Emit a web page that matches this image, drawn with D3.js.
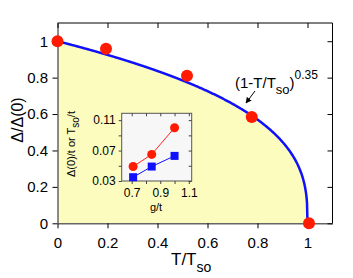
<!DOCTYPE html>
<html>
<head>
<meta charset="utf-8">
<script src="https://cdn.jsdelivr.net/npm/d3@7"></script>
<style>
body { margin: 0; background: #fff; }
svg { font-family: "Liberation Sans", Arial, sans-serif; }
</style>
</head>
<body>
<div id="chart"></div>
<script>
// main panel data
var tRatio = [0, 0.194, 0.518, 0.777, 1.006];
var gapRatio = [1.0, 0.959, 0.81, 0.584, 0];
var expo = 0.35;
var mainTicks = [0, 0.2, 0.4, 0.6, 0.8, 1];

// inset data
var gOverT = [0.71, 0.84, 1.0];
var gapOverT = [0.049, 0.065, 0.100];
var tsoOverT = [0.035, 0.049, 0.063];
var insetXTicks = [0.7, 0.9, 1.1];
var insetYTicks = [0.03, 0.07, 0.11];

var W = 353, H = 278;
var svg = d3.select("#chart").append("svg").attr("width", W).attr("height", H);

var x = d3.scaleLinear().domain([0, 1.1]).range([57.5, 332.5]);
var y = d3.scaleLinear().domain([0, 1.1]).range([223.3, 23]);

// curve samples of (1-x)^0.35
var curve = d3.range(0, 1.0001, 0.002).map(function (t) {
	return [t, Math.pow(Math.max(0, 1 - t), expo)];
});
curve.push([1, 0]);

svg.append("path")
	.datum(curve)
	.attr("fill", "#fdfcbf")
	.attr("d", d3.area()
		.x(function (d) { return x(d[0]) })
		.y0(y(0))
		.y1(function (d) { return y(d[1]) }));

// frame
svg.append("line").attr("x1", x(0)).attr("x2", x(1.1)).attr("y1", y(1.1)).attr("y2", y(1.1)).attr("stroke", "#000");
svg.append("line").attr("x1", x(1.1)).attr("x2", x(1.1)).attr("y1", y(1.1)).attr("y2", y(0)).attr("stroke", "#000");

var fmt = d3.format("~g");
var ax = svg.append("g").attr("transform", "translate(0," + y(0) + ")")
	.call(d3.axisBottom(x).tickValues(mainTicks).tickFormat(fmt).tickSize(5).tickSizeOuter(0));
var ay = svg.append("g").attr("transform", "translate(" + x(0) + ",0)")
	.call(d3.axisLeft(y).tickValues(mainTicks).tickFormat(fmt).tickSize(5).tickSizeOuter(0));
var at = svg.append("g").attr("transform", "translate(0," + y(1.1) + ")")
	.call(d3.axisBottom(x).tickValues(mainTicks).tickFormat("").tickSize(5).tickSizeOuter(0));
var ar = svg.append("g").attr("transform", "translate(" + x(1.1) + ",0)")
	.call(d3.axisLeft(y).tickValues(mainTicks).tickFormat("").tickSize(5).tickSizeOuter(0));
[ax, ay].forEach(function (a) {
	a.select(".domain").attr("stroke", "#666").attr("stroke-width", 1.5);
	a.selectAll("text").attr("font-size", 15).attr("fill", "#000");
});
at.select(".domain").remove();
ar.select(".domain").remove();
ax.selectAll("text").attr("dy", "1.1em");
ay.selectAll("text").attr("dx", "-0.1em");

// curve line
svg.append("path")
	.datum(curve)
	.attr("fill", "none")
	.attr("stroke", "#1010ff")
	.attr("stroke-width", 2.5)
	.attr("d", d3.line()
		.x(function (d) { return x(d[0]) })
		.y(function (d) { return y(d[1]) }));

svg.selectAll(".pt")
	.data(tRatio)
	.enter()
	.append("circle")
	.attr("class", "pt")
	.attr("cx", function (d) { return x(d) })
	.attr("cy", function (d, i) { return y(gapRatio[i]) })
	.attr("r", 6)
	.attr("fill", "#ff1a00");

// axis labels
svg.append("text")
	.attr("transform", "translate(23,120) rotate(-90)")
	.attr("text-anchor", "middle")
	.attr("font-size", 16)
	.text("Δ/Δ(0)");
var xl = svg.append("text")
	.attr("x", 171)
	.attr("y", 265)
	.attr("font-size", 17);
xl.append("tspan").text("T/T");
xl.append("tspan").attr("dy", 7).attr("font-size", 14).text("so");

// annotation
var ann = svg.append("text")
	.attr("x", 235)
	.attr("y", 88)
	.attr("font-size", 15);
ann.append("tspan").text("(1-T/T");
ann.append("tspan").attr("dy", 6).attr("font-size", 13).text("so");
ann.append("tspan").attr("dy", -6).text(")");
ann.append("tspan").attr("dy", -9).attr("font-size", 12).text("0.35");

svg.append("defs").append("marker")
	.attr("id", "arr")
	.attr("viewBox", "0 0 10 10")
	.attr("refX", 9).attr("refY", 5)
	.attr("markerWidth", 6).attr("markerHeight", 6)
	.attr("orient", "auto")
	.append("path").attr("d", "M0,0L10,5L0,10z").attr("fill", "#000");
svg.append("line")
	.attr("x1", 255).attr("y1", 91)
	.attr("x2", 246).attr("y2", 103)
	.attr("stroke", "#000")
	.attr("stroke-width", 1)
	.attr("marker-end", "url(#arr)");

// inset
var ix = d3.scaleLinear().domain([0.63, 1.12]).range([121.7, 191.7]);
var iy = d3.scaleLinear().domain([0.03, 0.119]).range([181, 113.3]);

svg.append("rect")
	.attr("x", 121.7).attr("y", 113.3)
	.attr("width", 70).attr("height", 67.7)
	.attr("fill", "#f7f7f7")
	.attr("stroke", "#555")
	.attr("stroke-width", 1);

var ixAll = [0.7, 0.8, 0.9, 1.0, 1.1];
var iyAll = [0.03, 0.05, 0.07, 0.09, 0.11];
var ifmt = d3.format("~g");
var ib = svg.append("g").attr("transform", "translate(0,181)")
	.call(d3.axisBottom(ix).tickValues(ixAll).tickSize(3).tickSizeOuter(0)
		.tickFormat(function (d) { return insetXTicks.indexOf(d) >= 0 ? ifmt(d) : "" }));
var il = svg.append("g").attr("transform", "translate(121.7,0)")
	.call(d3.axisLeft(iy).tickValues(iyAll).tickSize(3).tickSizeOuter(0)
		.tickFormat(function (d) { return insetYTicks.indexOf(d) >= 0 ? ifmt(d) : "" }));
var itop = svg.append("g").attr("transform", "translate(0,113.3)")
	.call(d3.axisBottom(ix).tickValues(ixAll).tickSize(3).tickFormat(""));
var iright = svg.append("g").attr("transform", "translate(191.7,0)")
	.call(d3.axisLeft(iy).tickValues(iyAll).tickSize(3).tickFormat(""));
[ib, il, itop, iright].forEach(function (a) {
	a.select(".domain").remove();
	a.selectAll("line").attr("stroke", "#444");
	a.selectAll("text").attr("font-size", 12).attr("fill", "#000");
});
ib.selectAll("text").attr("dy", "0.85em");

var iline = d3.line()
	.x(function (d) { return ix(d[0]) })
	.y(function (d) { return iy(d[1]) });
svg.append("path")
	.datum(gOverT.map(function (g, i) { return [g, gapOverT[i]] }))
	.attr("fill", "none").attr("stroke", "#ff2020").attr("stroke-width", 1)
	.attr("d", iline);
svg.append("path")
	.datum(gOverT.map(function (g, i) { return [g, tsoOverT[i]] }))
	.attr("fill", "none").attr("stroke", "#1010ff").attr("stroke-width", 1)
	.attr("d", iline);
svg.selectAll(".ired")
	.data(gOverT)
	.enter()
	.append("circle")
	.attr("class", "ired")
	.attr("cx", function (d) { return ix(d) })
	.attr("cy", function (d, i) { return iy(gapOverT[i]) })
	.attr("r", 4.5)
	.attr("fill", "#ff1a00");
svg.selectAll(".iblue")
	.data(gOverT)
	.enter()
	.append("rect")
	.attr("class", "iblue")
	.attr("x", function (d) { return ix(d) - 4 })
	.attr("y", function (d, i) { return iy(tsoOverT[i]) - 4 })
	.attr("width", 8).attr("height", 8)
	.attr("fill", "#1010ff");

var iyl = svg.append("text")
	.attr("transform", "translate(75,144) rotate(-90)")
	.attr("text-anchor", "middle")
	.attr("font-size", 11);
iyl.append("tspan").text("Δ(0)/t or T");
iyl.append("tspan").attr("dy", 4).attr("font-size", 10).text("so");
iyl.append("tspan").attr("dy", -4).text("/t");

svg.append("text")
	.attr("x", 156).attr("y", 211)
	.attr("text-anchor", "middle")
	.attr("font-size", 11)
	.text("g/t");
</script>
</body>
</html>
